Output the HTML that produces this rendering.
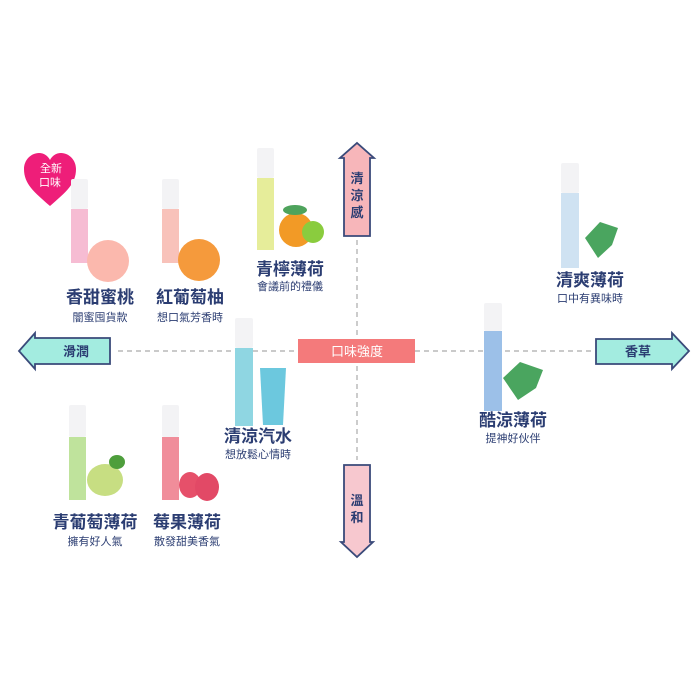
<!DOCTYPE html>
<html><head><meta charset="utf-8"><style>
html,body{margin:0;padding:0;background:#fff;}
svg{display:block;}
.t{font-family:"Liberation Sans","Noto Sans CJK TC",sans-serif;fill:#2b3d72;font-weight:bold;font-size:17px;text-anchor:middle;}
.s{font-family:"Liberation Sans","Noto Sans CJK TC",sans-serif;fill:#2b3d72;font-size:11px;text-anchor:middle;}
.a{font-family:"Liberation Sans","Noto Sans CJK TC",sans-serif;fill:#2b3d72;font-weight:bold;font-size:13px;text-anchor:middle;}
</style></head><body>
<svg width="700" height="700" viewBox="0 0 700 700">
<line x1="118" y1="351" x2="592" y2="351" stroke="#aaa" stroke-width="1.2" stroke-dasharray="5,4"/>
<line x1="357" y1="240" x2="357" y2="460" stroke="#aaa" stroke-width="1.2" stroke-dasharray="5,4"/>
<path d="M344,236 L344,158 L340,158 L357,143 L374,158 L370,158 L370,236 Z" fill="#f7b6ba" stroke="#3a4a7a" stroke-width="1.8"/>
<text class="a" x="357" y="183">清</text><text class="a" x="357" y="200">涼</text><text class="a" x="357" y="217">感</text>
<path d="M344,465 L370,465 L370,542 L373,542 L357,557 L341,542 L344,542 Z" fill="#f7c8cf" stroke="#3a4a7a" stroke-width="1.8"/>
<text class="a" x="357" y="505">溫</text><text class="a" x="357" y="522">和</text>
<path d="M110,338 L110,364 L35,364 L35,369 L19,351 L35,333 L35,338 Z" fill="#a3ece0" stroke="#3a4a7a" stroke-width="1.8"/>
<text class="a" x="76" y="356">滑潤</text>
<path d="M596,339 L672,339 L672,333 L689,351 L672,369 L672,364 L596,364 Z" fill="#a3ece0" stroke="#3a4a7a" stroke-width="1.8"/>
<text class="a" x="638" y="356">香草</text>
<rect x="298" y="339" width="117" height="24" fill="#f47a7b"/>
<text x="357" y="356" font-family="Liberation Sans,Noto Sans CJK TC,sans-serif" font-size="13" fill="#fff" text-anchor="middle">口味強度</text>

<path d="M50,206 C34,192 24,184 24,169 C24,160 31,153 39,153 C44,153 48,156 50,160 C52,156 56,153 61,153 C69,153 76,160 76,169 C76,184 66,192 50,206 Z" fill="#ee1e79"/>
<text x="51" y="172" font-family="Liberation Sans,Noto Sans CJK TC,sans-serif" font-size="11" fill="#fff" text-anchor="middle">全新</text>
<text x="50" y="186" font-family="Liberation Sans,Noto Sans CJK TC,sans-serif" font-size="11" fill="#fff" text-anchor="middle">口味</text>

<rect x="71" y="179" width="17" height="30" fill="#f3f3f5" rx="2"/>
<rect x="71" y="209" width="17" height="54" fill="#f6bcd3"/>
<circle cx="108" cy="261" r="21" fill="#fbb8ad"/>
<text class="t" x="100" y="303">香甜蜜桃</text><text class="s" x="100" y="321">闇蜜囤貨款</text>
<rect x="162" y="179" width="17" height="30" fill="#f3f3f5" rx="2"/>
<rect x="162" y="209" width="17" height="54" fill="#f8c2ba"/>
<circle cx="199" cy="260" r="21" fill="#f59a3c"/>
<text class="t" x="190" y="303">紅葡萄柚</text><text class="s" x="190" y="321">想口氣芳香時</text>
<rect x="257" y="148" width="17" height="30" fill="#f3f3f5" rx="2"/>
<rect x="257" y="178" width="17" height="72" fill="#e6ed9a"/>
<circle cx="296" cy="230" r="17" fill="#f29a26"/>
<circle cx="313" cy="232" r="11" fill="#8acc3e"/>
<ellipse cx="295" cy="210" rx="12" ry="5" fill="#4ea35c"/>
<text class="t" x="290" y="275">青檸薄荷</text><text class="s" x="290" y="290">會議前的禮儀</text>
<rect x="561" y="163" width="18" height="30" fill="#f3f3f5" rx="2"/>
<rect x="561" y="193" width="18" height="75" fill="#cfe2f2"/>
<path d="M585,238 L600,222 L618,228 L612,245 L598,258 Z" fill="#4aa55f"/>
<text class="t" x="590" y="286">清爽薄荷</text><text class="s" x="590" y="302">口中有異味時</text>
<rect x="484" y="303" width="18" height="28" fill="#f3f3f5" rx="2"/>
<rect x="484" y="331" width="18" height="80" fill="#9cc0e8"/>
<path d="M503,378 L520,362 L543,370 L536,388 L518,400 Z" fill="#4aa55f"/>
<text class="t" x="513" y="426">酷涼薄荷</text><text class="s" x="513" y="442">提神好伙伴</text>
<rect x="235" y="318" width="18" height="30" fill="#f3f3f5" rx="2"/>
<rect x="235" y="348" width="18" height="78" fill="#8fd6e2"/>
<path d="M260,368 L286,368 L283,425 L263,425 Z" fill="#6cc8de"/>
<text class="t" x="258" y="442">清涼汽水</text><text class="s" x="258" y="458">想放鬆心情時</text>
<rect x="69" y="405" width="17" height="32" fill="#f3f3f5" rx="2"/>
<rect x="69" y="437" width="17" height="63" fill="#bfe39c"/>
<ellipse cx="105" cy="480" rx="18" ry="16" fill="#c7de82"/>
<ellipse cx="117" cy="462" rx="8" ry="7" fill="#4e9e3c"/>
<text class="t" x="95" y="528">青葡萄薄荷</text><text class="s" x="95" y="545">擁有好人氣</text>
<rect x="162" y="405" width="17" height="32" fill="#f3f3f5" rx="2"/>
<rect x="162" y="437" width="17" height="63" fill="#f08d9a"/>
<ellipse cx="190" cy="485" rx="11" ry="13" fill="#e6506a"/>
<ellipse cx="207" cy="487" rx="12" ry="14" fill="#e24966"/>
<text class="t" x="187" y="528">莓果薄荷</text><text class="s" x="187" y="545">散發甜美香氣</text>
</svg>
</body></html>
